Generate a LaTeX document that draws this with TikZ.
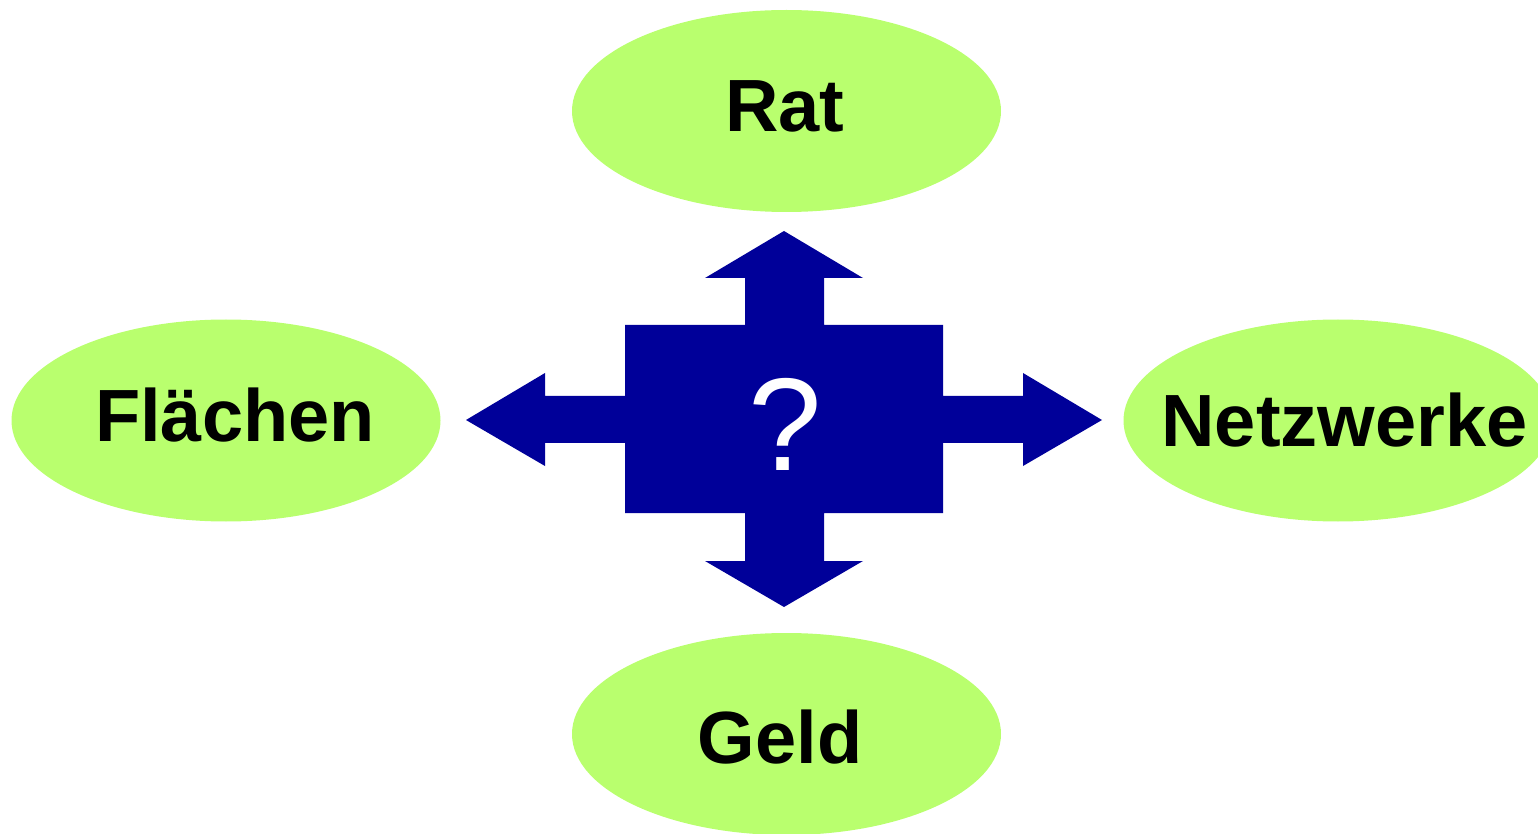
\documentclass[tikz,border=0pt]{standalone}
\usepackage{fontspec}
\setmainfont{Liberation Sans}
\usetikzlibrary{shapes.geometric}
\definecolor{leaf}{RGB}{185,255,110}
\definecolor{navy}{RGB}{0,0,153}
\begin{document}
\begin{tikzpicture}[x=0.5pt,y=-0.5pt,
  bubble/.style={ellipse,fill=leaf,draw=none,minimum width=214.5pt,minimum height=101pt,inner sep=0pt},
  word/.style={anchor=base,inner sep=0pt,font=\bfseries\fontsize{37}{44}\selectfont}]
\useasboundingbox (0,0) rectangle (1538,834);
\clip (0,0) rectangle (1538,834);
\node[bubble] (rat) at (786.5,111) {};
\node[bubble] (flaechen) at (226,420.5) {};
\node[bubble] (netz) at (1338,420.5) {};
\node[bubble] (geld) at (786.5,734) {};
\node[word] (tRat) at (785,132) {Rat};
\node[word] (tFl) at (235,442) {Flächen};
\node[word] (tNe) at (1344.5,446) {Netzwerke};
\node[word] (tGe) at (780,763) {Geld};
\fill[navy] (784,231) -- (863,278) -- (824,278) -- (824,325) -- (943,325) -- (943,396)
  -- (1023,396) -- (1023,373) -- (1102,420) -- (1023,466) -- (1023,443) -- (943,443)
  -- (943,513) -- (824,513) -- (824,561) -- (863,561) -- (784,607) -- (705,561)
  -- (745,561) -- (745,513) -- (625,513) -- (625,443) -- (545,443) -- (545,466)
  -- (466,420) -- (545,373) -- (545,396) -- (625,396) -- (625,325) -- (745,325)
  -- (745,278) -- (705,278) -- cycle;
\node[anchor=base,inner sep=0pt,text=white,font=\fontsize{66}{74}\selectfont] (q) at (785,470) {?};
\end{tikzpicture}
\end{document}
